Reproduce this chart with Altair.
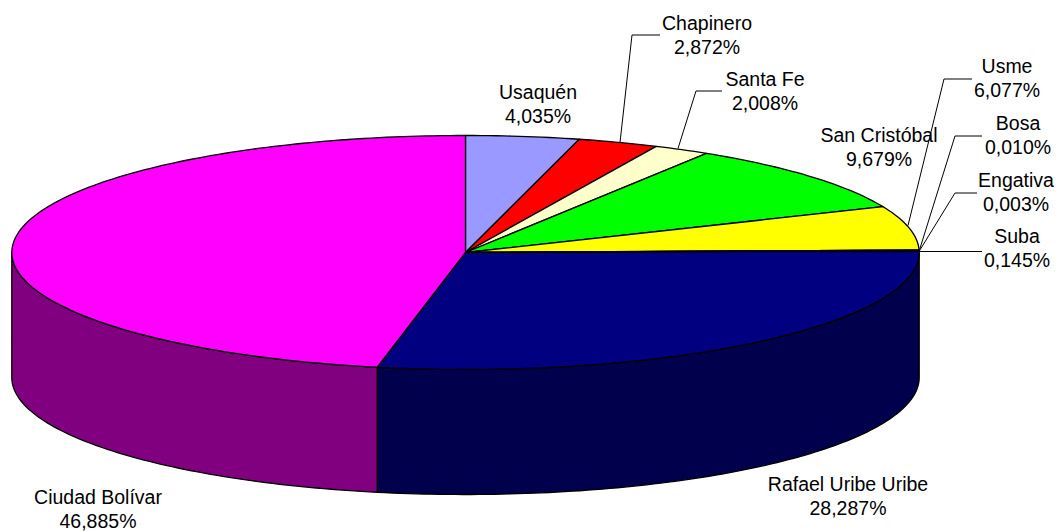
import math
import altair as alt
import pandas as pd

districts = ["Usaquén", "Chapinero", "Santa Fe", "San Cristóbal", "Usme", "Bosa",
             "Engativa", "Suba", "Rafael Uribe Uribe", "Ciudad Bolívar"]
shares = [4.035, 2.872, 2.008, 9.679, 6.077, 0.010, 0.003, 0.145, 28.287, 46.885]
share_text = ["4,035%", "2,872%", "2,008%", "9,679%", "6,077%", "0,010%",
              "0,003%", "0,145%", "28,287%", "46,885%"]
top_colors = ["#9999ff", "#ff0000", "#ffffcc", "#00ff00", "#ffff00", "#ff00ff",
              "#00ffff", "#800000", "#000080", "#ff00ff"]
side_colors = ["#4d4d80", "#800000", "#808066", "#008000", "#808000", "#800080",
               "#008080", "#400000", "#00004d", "#800080"]

# Layout, in picture pixels
W, H = 1046, 523
CX, CY, RX, RY, DEPTH = 465.5, 251, 453.7, 117, 125
OFF_X, OFF_Y = 8, 6.5
label_x = [538, 707, 765, 879, 1007, 1018, 1016, 1017, 848, 98]
label_y = [91.5, 22.5, 78.5, 134.5, 65.5, 122.5, 179.5, 235.5, 483.5, 496]
leaders = {
    "Chapinero": [(620, 141), (632, 33.5), (660, 33.5)],
    "Santa Fe": [(678, 147), (696, 89.5), (722, 89.5)],
    "Usme": [(908, 224), (944, 77.5), (972, 77.5)],
    "Bosa": [(919, 250), (955, 134.5), (982, 134.5)],
    "Engativa": [(919, 250), (955, 191.5), (977, 191.5)],
    "Suba": [(919, 250), (982, 250)],
}


def rim(deg, drop=0):
    a = math.radians(deg)
    return CX + RX * math.sin(a), CY - RY * math.cos(a) + drop


def arc(a0, a1):
    n = max(2, int(abs(a1 - a0)) + 2)
    return [a0 + (a1 - a0) * i / (n - 1) for i in range(n)]


rows = []
start = 0.0
total = sum(shares)
spans = []
for name, v in zip(districts, shares):
    end = start + v / total * 360
    spans.append((name, start, end))
    start = end


def add(key, fill, pts, group):
    pts = list(pts) + [pts[0]]
    for i, (x, y) in enumerate(pts):
        rows.append({"key": key, "fill": fill, "i": i, "x": x, "y": y, "group": group})


# walls for the visible, front half of the rim
for (name, a0, a1), col in zip(spans, side_colors):
    lo, hi = max(a0, 90), min(a1, 270)
    if hi > lo:
        top = [rim(a) for a in arc(lo, hi)]
        bot = [rim(a, DEPTH) for a in arc(hi, lo)]
        add("w" + name, col, top + bot, 0)
# top face
for (name, a0, a1), col in zip(spans, top_colors):
    add("t" + name, col, [(CX, CY)] + [rim(a) for a in arc(a0, a1)], 1)

poly = pd.DataFrame(rows)
xs = alt.Scale(domain=[OFF_X, OFF_X + W], range=[0, W], nice=False, zero=False)
ys = alt.Scale(domain=[OFF_Y, OFF_Y + H], range=[0, H], nice=False, zero=False)
X = lambda f="x": alt.X(f + ":Q", scale=xs, axis=None)
Y = lambda f="y": alt.Y(f + ":Q", scale=ys, axis=None)


def slices(group):
    return alt.Chart(poly[poly.group == group]).mark_line(
        stroke="black", strokeWidth=1.3, strokeJoin="round", clip=False
    ).encode(
        x=X(), y=Y(), order="i:Q", detail="key:N",
        fill=alt.Fill("fill:N", scale=None),
    )


lead = pd.DataFrame([
    {"key": k, "i": i, "x": x, "y": y}
    for k, pts in leaders.items() for i, (x, y) in enumerate(pts)
])
lead_layer = alt.Chart(lead).mark_line(stroke="black", strokeWidth=1).encode(
    x=X(), y=Y(), order="i:Q", detail="key:N"
)

labels = pd.DataFrame({
    "x": label_x, "y": label_y,
    "text": [[d, s] for d, s in zip(districts, share_text)],
})
label_layer = alt.Chart(labels).mark_text(
    font="Liberation Sans", fontSize=19.5, color="black", lineHeight=24,
    align="center", baseline="middle", clip=False,
).encode(x=X(), y=Y(), text="text")

# walls, top, leader lines, labels
chart = alt.layer(slices(0), slices(1), lead_layer, label_layer).properties(
    width=W, height=H, padding=0, background="white",
    autosize=alt.AutoSizeParams(type="none"),
).configure_view(stroke=None)

chart.save("out.html", embed_options={"renderer": "svg", "actions": False})
